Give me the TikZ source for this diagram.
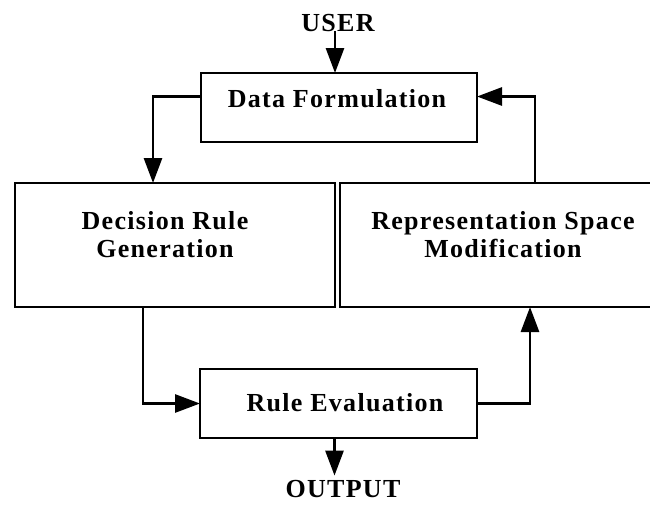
\documentclass[tikz,border=0pt]{standalone}
\usepackage{fontspec}
\setmainfont{Liberation Serif}
\usetikzlibrary{arrows.meta}
\begin{document}
\begin{tikzpicture}[x=1pt,y=-1pt,
  box/.style={draw, line width=2.8pt, inner sep=0pt, outer sep=0pt},
  lbl/.style={font=\fontsize{26}{28}\selectfont\bfseries\addfontfeature{LetterSpace=5}, inner sep=0pt, anchor=base, align=center},
  conn/.style={line width=2.8pt, -{Triangle[length=25pt,width=18pt]}}]
\useasboundingbox (0,0) rectangle (650,504);
\node[box, minimum width=276pt, minimum height=69pt] (df) at (339,107.5) {};
\node[box, minimum width=320pt, minimum height=124pt] (drg) at (175,245) {};
\node[box, minimum width=325pt, minimum height=124pt] (rsm) at (502.5,245) {};
\node[box, minimum width=277pt, minimum height=69pt] (re) at (338.5,403.5) {};
\node[lbl] (user) at (338,31) {USER};
\node[lbl] (dft) at (337,107) {Data Formulation};
\node[lbl] (drgt) at (165,257) {Decision Rule\\Generation};
\node[lbl] (rsmt) at (503,257) {Representation Space\\Modification};
\node[lbl] (ret) at (345,411) {Rule Evaluation};
\node[lbl] (out) at (343,497) {OUTPUT};
\draw[conn] ([xshift=-3pt]user.south) -- ([xshift=-3pt]user.south |- df.north);
\draw[conn] ([yshift=11pt]df.west) -| ([xshift=-22pt]drg.north);
\draw[conn] ([xshift=-32pt]drg.south) |- (re.west);
\draw[conn] (re.east) -| ([xshift=27.5pt]rsm.south);
\draw[conn] ([xshift=32.5pt]rsm.north) |- ([yshift=11pt]df.east);
\draw[conn] ([xshift=-4pt]re.south) -- ([xshift=-4pt,yshift=4pt]re.south |- out.north);
\end{tikzpicture}
\end{document}
